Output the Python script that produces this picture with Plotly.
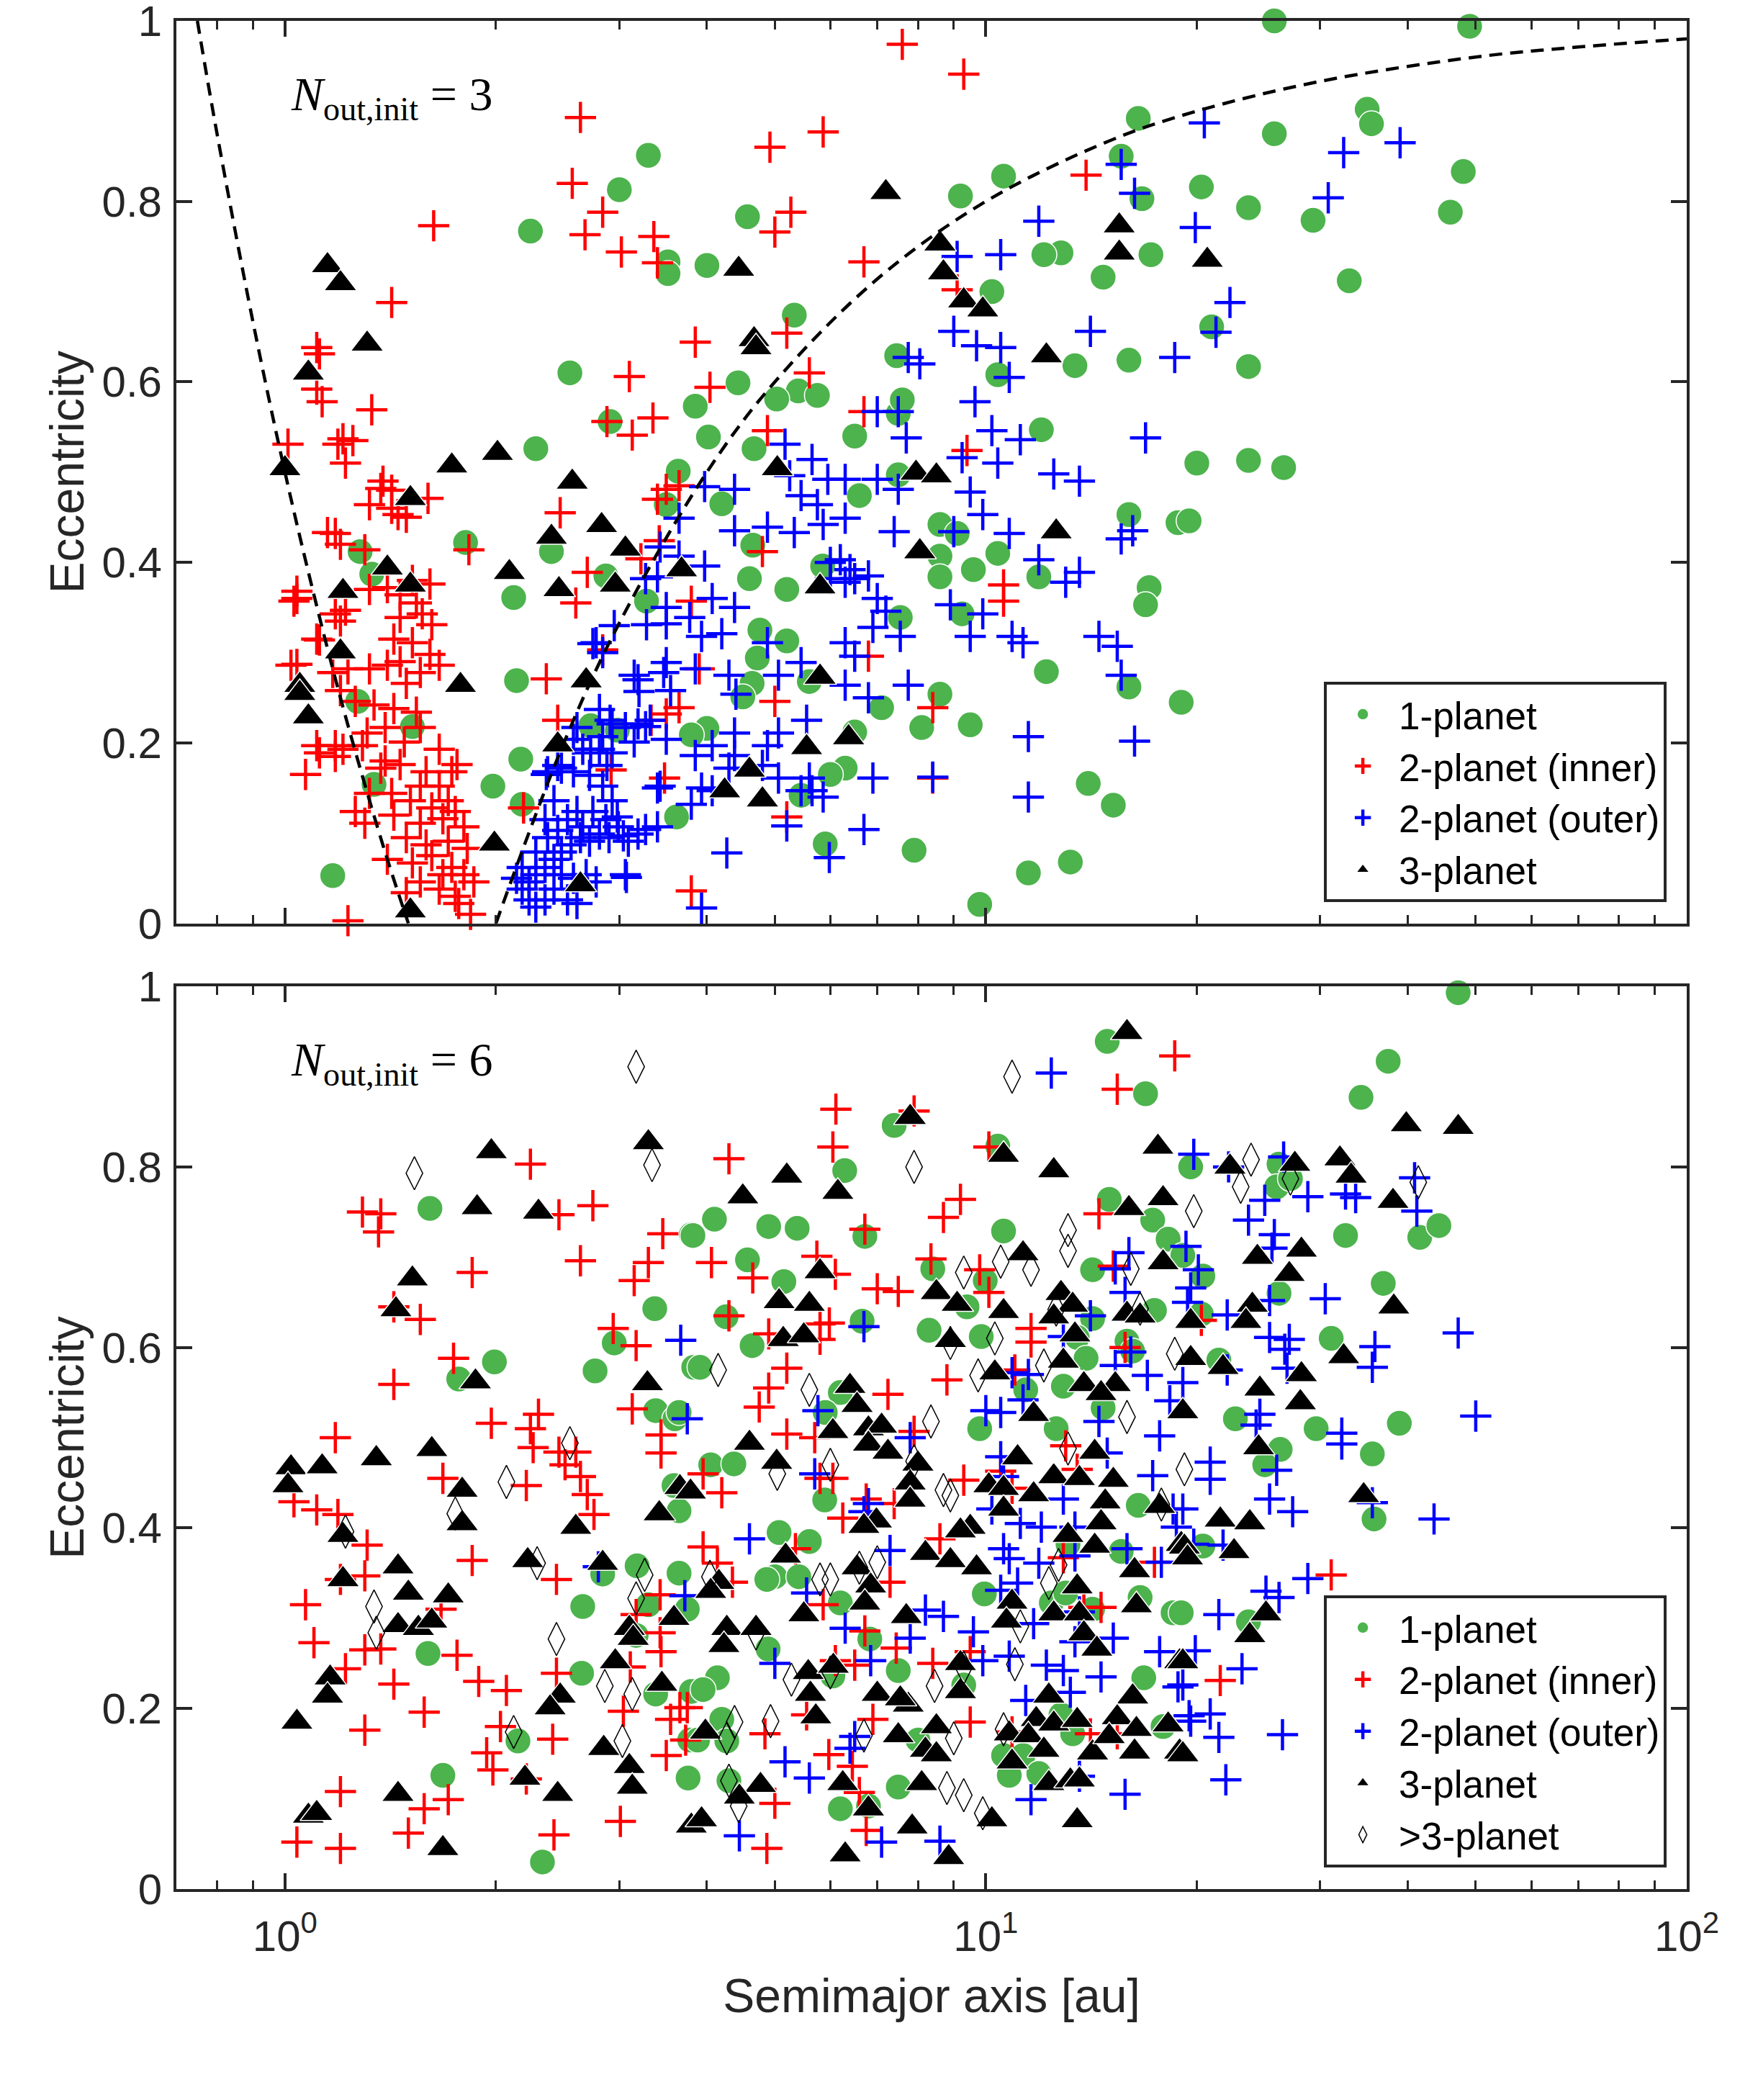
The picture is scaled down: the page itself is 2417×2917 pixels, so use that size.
import math
import plotly.graph_objects as go

# ---- data: (semimajor axis [au], eccentricity) ----

# N_out,init = 3 panel
one_top = [
    (25.8, 1.0), (49, 0.994), (16.5, 0.892), (35, 0.902), (35.5, 0.886), (25.8, 0.875), (48, 0.833),
    (46, 0.788), (29.3, 0.779), (33, 0.712), (20.3, 0.816), (23.7, 0.793), (15.6, 0.85), (16.7, 0.803),
    (17.2, 0.741), (14.7, 0.716), (12.8, 0.743), (12.1, 0.741), (10.6, 0.828), (9.2, 0.806), (10.2, 0.70),
    (5.33, 0.674), (13.4, 0.618), (16, 0.624), (23.7, 0.617), (21, 0.661), (10.4, 0.608), (7.46, 0.629),
    (3.3, 0.851), (3.0, 0.813), (2.24, 0.767), (4.57, 0.783), (3.52, 0.733), (3.52, 0.72), (4.0, 0.729),
    (2.55, 0.61), (4.43, 0.599), (5.4, 0.59), (5.75, 0.585), (5.03, 0.581), (3.85, 0.573), (2.91, 0.556),
    (4.02, 0.539), (2.28, 0.526), (3.64, 0.501), (6.5, 0.54), (7.5, 0.565), (7.6, 0.58), (4.67, 0.526),
    (7.5, 0.497), (6.6, 0.474), (4.2, 0.465), (3.5, 0.464), (12.0, 0.547), (20, 0.51), (23.7, 0.513),
    (26.6, 0.505), (16, 0.453), (18.8, 0.444), (19.5, 0.446), (8.6, 0.442), (9.1, 0.432), (4.65, 0.419),
    (1.81, 0.422), (1.28, 0.412), (2.4, 0.412), (8.6, 0.407), (9.6, 0.392), (10.4, 0.41), (17.1, 0.372),
    (16.9, 0.353), (11.9, 0.384), (8.6, 0.384), (5.85, 0.396), (5.2, 0.37), (4.6, 0.382), (3.28, 0.357),
    (2.12, 0.361), (1.33, 0.387), (2.87, 0.385), (7.55, 0.339), (9.25, 0.343), (4.76, 0.325), (4.72, 0.294),
    (5.2, 0.313), (12.2, 0.279), (16, 0.262), (19, 0.245), (8.6, 0.254), (7.1, 0.239), (5.6, 0.268),
    (4.64, 0.266), (2.14, 0.269), (4.5, 0.251), (9.5, 0.22), (8.1, 0.217), (6.5, 0.212), (6.3, 0.172),
    (6.0, 0.165), (5.45, 0.142), (3.62, 0.118), (2.17, 0.182), (2.18, 0.132), (1.98, 0.152), (2.73, 0.219),
    (2.98, 0.214), (4.0, 0.216), (3.8, 0.209), (14, 0.155), (15.2, 0.131), (5.9, 0.088), (7.9, 0.081),
    (11.5, 0.056), (13.2, 0.068), (9.8, 0.021), (1.17, 0.053), (1.27, 0.246), (1.34, 0.154), (1.52, 0.218),
]

inner_top = [
    (7.6, 0.974), (9.3, 0.941), (5.86, 0.877), (4.92, 0.86), (2.64, 0.893), (2.57, 0.82), (2.84, 0.788),
    (2.68, 0.763), (3.02, 0.744), (3.36, 0.761), (3.4, 0.732), (5.27, 0.788), (5.0, 0.766), (6.7, 0.733),
    (13.9, 0.829), (9.1, 0.702), (5.2, 0.654), (3.85, 0.644), (5.6, 0.61), (4.04, 0.594), (3.1, 0.606),
    (2.88, 0.556), (3.13, 0.541), (3.35, 0.56), (4.88, 0.546), (6.7, 0.567), (9.4, 0.524), (1.63, 0.773),
    (1.42, 0.688), (1.11, 0.638), (1.12, 0.631), (1.11, 0.592), (1.13, 0.578), (1.33, 0.569), (1.01, 0.531),
    (1.19, 0.531), (1.25, 0.535), (1.22, 0.51), (1.38, 0.49), (1.42, 0.48), (1.42, 0.46), (1.6, 0.471),
    (1.32, 0.464), (1.15, 0.433), (1.18, 0.432), (1.3, 0.414), (1.83, 0.414), (1.04, 0.368), (1.03, 0.357),
    (1.18, 0.343), (1.2, 0.335), (1.12, 0.314), (1.04, 0.287), (1.17, 0.278), (1.12, 0.189), (1.07, 0.165),
    (1.18, 0.197), (1.31, 0.211), (1.3, 0.111), (1.23, 0.003), (2.47, 0.455), (2.36, 0.271), (2.6, 0.355),
    (2.7, 0.389), (3.5, 0.481), (3.4, 0.47), (3.65, 0.485), (3.42, 0.424), (3.8, 0.357), (4.8, 0.412),
    (10.6, 0.375), (10.6, 0.357), (6.8, 0.296), (5.0, 0.246), (8.4, 0.239), (8.4, 0.161), (5.2, 0.118),
    (3.8, 0.036), (2.45, 0.225), (2.19, 0.128), (2.92, 0.17), (3.5, 0.232), (3.65, 0.239), (3.9, 0.282),
    (2.84, 0.303), (3.33, 0.225), (3.48, 0.161), (3.22, 0.404), (1.45, 0.453), (1.49, 0.45), (1.2, 0.42),
    (1.37, 0.482), (1.21, 0.537),
    (1.32, 0.37), (1.4, 0.372), (1.46, 0.364), (1.52, 0.38), (1.61, 0.376), (1.54, 0.355), (1.57, 0.343),
    (1.62, 0.331), (1.46, 0.339), (1.43, 0.315), (1.52, 0.311), (1.61, 0.298), (1.66, 0.286), (1.4, 0.286),
    (1.46, 0.29), (1.56, 0.278), (1.49, 0.266), (1.32, 0.282), (1.23, 0.282), (1.2, 0.258), (1.26, 0.246),
    (1.34, 0.242), (1.43, 0.238), (1.54, 0.234), (1.39, 0.217), (1.48, 0.201), (1.56, 0.217), (1.66, 0.193),
    (1.37, 0.172), (1.46, 0.176), (1.59, 0.168), (1.73, 0.168), (1.32, 0.144), (1.42, 0.144), (1.51, 0.136),
    (1.62, 0.128), (1.75, 0.124), (1.43, 0.12), (1.56, 0.111), (1.68, 0.116), (1.8, 0.107), (1.49, 0.095),
    (1.59, 0.087), (1.71, 0.091), (1.82, 0.083), (1.4, 0.071), (1.52, 0.067), (1.62, 0.075), (1.73, 0.062),
    (1.8, 0.054), (1.86, 0.046), (1.56, 0.046), (1.66, 0.038), (1.75, 0.03), (1.68, 0.054), (1.49, 0.034),
    (1.84, 0.01), (1.77, 0.022), (1.26, 0.124), (1.29, 0.197), (1.21, 0.193), (1.11, 0.197), (1.18, 0.185),
    (1.02, 0.286), (1.11, 0.315), (1.22, 0.347), (1.04, 0.36), (1.66, 0.152), (1.71, 0.136), (1.76, 0.176),
    (1.39, 0.18), (1.56, 0.152),
]

outer_top = [
    (20.5, 0.887), (32.4, 0.854), (39, 0.865), (15.6, 0.841), (16.3, 0.809), (30.8, 0.804), (19.9, 0.771),
    (11.9, 0.778), (10.5, 0.741), (9.1, 0.739), (22.3, 0.688), (14.1, 0.656), (21.3, 0.655), (18.6, 0.627),
    (9.0, 0.656), (9.7, 0.64), (10.5, 0.638), (7.75, 0.627), (8.05, 0.62), (10.8, 0.605), (9.65, 0.578),
    (16.9, 0.538), (10.2, 0.546), (11.2, 0.536), (7.0, 0.567), (7.5, 0.567), (7.7, 0.538), (5.17, 0.531),
    (5.65, 0.514), (7.0, 0.492), (7.5, 0.481), (9.25, 0.516), (10.4, 0.51), (12.5, 0.498), (13.6, 0.49),
    (9.5, 0.478), (9.9, 0.453), (5.95, 0.492), (6.3, 0.492), (5.25, 0.496), (5.45, 0.474), (5.75, 0.464),
    (3.97, 0.484), (4.38, 0.481), (3.65, 0.449), (4.38, 0.435), (4.88, 0.439), (5.33, 0.433), (5.86, 0.442),
    (6.3, 0.449), (7.4, 0.434), (9.0, 0.434), (10.8, 0.432), (15.6, 0.426), (16.2, 0.435), (11.9, 0.403),
    (13.6, 0.389), (13.0, 0.378), (6.0, 0.4), (6.2, 0.403), (6.4, 0.392), (6.5, 0.382), (6.0, 0.382),
    (6.3, 0.378), (6.8, 0.385), (7.0, 0.36), (7.2, 0.346), (6.9, 0.328), (8.9, 0.353), (9.9, 0.343),
    (9.5, 0.318), (10.9, 0.318), (11.3, 0.311), (14.5, 0.318), (15.4, 0.307), (15.6, 0.275), (7.55, 0.318),
    (6.3, 0.311), (6.5, 0.296), (6.3, 0.264), (7.75, 0.264), (6.8, 0.25), (5.45, 0.289), (4.88, 0.311),
    (4.07, 0.36), (4.38, 0.35), (3.93, 0.318), (4.2, 0.321), (3.78, 0.339), (3.5, 0.332), (3.27, 0.382),
    (3.65, 0.407), (3.97, 0.396), (3.5, 0.35), (2.78, 0.311), (2.84, 0.3), (3.15, 0.275), (3.2, 0.257),
    (3.5, 0.289), (3.85, 0.282), (4.3, 0.275), (4.4, 0.254), (5.06, 0.275), (5.55, 0.225), (5.06, 0.211),
    (4.88, 0.197), (4.38, 0.211), (4.07, 0.197), (3.85, 0.186), (3.5, 0.204), (3.27, 0.218), (2.91, 0.225),
    (2.84, 0.207), (2.73, 0.189), (2.88, 0.175), (2.58, 0.204), (2.45, 0.175), (2.36, 0.165), (3.4, 0.15),
    (3.93, 0.15), (3.8, 0.132), (4.07, 0.147), (4.3, 0.172), (4.38, 0.186), (4.8, 0.175), (5.06, 0.161),
    (5.45, 0.147), (5.65, 0.147), (5.86, 0.14), (5.6, 0.161), (6.9, 0.161), (8.4, 0.162), (5.2, 0.108),
    (6.7, 0.104), (11.5, 0.207), (16.3, 0.202), (11.5, 0.14), (4.27, 0.078), (5.98, 0.073), (3.93, 0.017),
    (3.07, 0.051), (3.27, 0.104), (3.04, 0.097), (2.98, 0.118), (2.75, 0.31), (2.95, 0.33), (3.19, 0.27),
    (3.47, 0.278), (3.55, 0.258), (3.28, 0.331), (3.43, 0.417), (3.4, 0.384),
    (2.23, 0.046), (2.18, 0.038), (2.14, 0.05), (2.28, 0.054), (2.35, 0.062), (2.42, 0.071), (2.48, 0.079),
    (2.56, 0.087), (2.64, 0.095), (2.72, 0.091), (2.81, 0.099), (2.9, 0.095), (2.99, 0.107), (3.09, 0.091),
    (3.19, 0.099), (3.4, 0.107), (2.37, 0.095), (2.45, 0.103), (2.53, 0.115), (2.61, 0.124), (2.66, 0.107),
    (2.75, 0.124), (2.87, 0.115), (2.93, 0.136), (2.84, 0.152), (2.72, 0.164), (2.58, 0.168), (2.48, 0.172),
    (2.37, 0.168), (2.42, 0.136), (2.35, 0.115), (2.28, 0.079), (2.18, 0.062), (2.23, 0.026), (2.28, 0.018),
    (2.35, 0.026), (2.42, 0.038), (2.53, 0.026), (2.61, 0.022), (2.48, 0.054), (2.58, 0.05), (2.69, 0.054),
    (2.78, 0.046), (3.06, 0.054), (3.43, 0.152), (3.15, 0.201), (3.06, 0.217), (3.19, 0.221), (3.32, 0.225),
    (2.81, 0.193), (2.93, 0.189), (2.66, 0.193), (2.61, 0.217), (2.81, 0.237), (2.93, 0.221),
]

three_top = [
    (7.2, 0.81), (4.44, 0.725), (4.67, 0.647), (4.7, 0.638), (8.6, 0.753), (8.7, 0.721), (9.3, 0.69),
    (9.9, 0.68), (15.5, 0.773), (15.5, 0.743), (20.7, 0.735), (12.2, 0.629), (1.15, 0.729), (1.2, 0.709),
    (1.31, 0.642), (1.08, 0.61), (1.0, 0.504), (2.01, 0.521), (1.73, 0.507), (2.57, 0.489), (1.51, 0.471),
    (5.04, 0.504), (7.95, 0.499), (8.5, 0.496), (2.83, 0.441), (2.4, 0.428), (3.06, 0.415), (3.68, 0.392),
    (2.09, 0.389), (1.4, 0.394), (1.51, 0.375), (1.21, 0.368), (2.46, 0.37), (2.96, 0.375), (8.05, 0.412),
    (12.6, 0.434), (5.8, 0.373), (1.2, 0.301), (1.05, 0.264), (1.05, 0.255), (1.08, 0.229), (1.78, 0.264),
    (2.69, 0.269), (5.8, 0.273), (2.45, 0.198), (5.55, 0.195), (6.37, 0.206), (4.6, 0.17), (4.24, 0.147),
    (4.8, 0.137), (1.99, 0.088), (2.64, 0.043), (1.51, 0.014),
]

# dashed limits (apocentre / pericentre boundaries)
apo_a = [0.75, 0.8, 0.9, 1.0, 1.1, 1.2, 1.3, 1.4, 1.5]
apo_e = [1.0, 0.875, 0.667, 0.5, 0.364, 0.25, 0.154, 0.071, 0.0]
peri_a = [2.0, 2.5, 3.0, 4.0, 5.0, 7.0, 10, 15, 20, 30, 50, 70, 100]
peri_e = [0.0, 0.2, 0.333, 0.5, 0.6, 0.714, 0.8, 0.867, 0.9, 0.933, 0.96, 0.971, 0.98]

# N_out,init = 6 panel
one_bot = [
    (1.61, 0.754), (3.8, 0.725), (3.37, 0.643), (2.95, 0.605), (1.99, 0.584), (1.77, 0.565), (2.77, 0.574),
    (3.38, 0.53), (3.6, 0.521), (3.83, 0.578),
    (14.9, 0.939), (16.9, 0.881), (7.4, 0.846), (10.4, 0.823), (6.29, 0.796), (15.0, 0.764), (17.3, 0.741),
    (18.2, 0.72), (19.1, 0.702), (19.6, 0.8), (4.1, 0.742), (3.82, 0.724), (4.9, 0.734), (5.38, 0.732),
    (6.72, 0.723), (10.6, 0.729), (4.57, 0.697), (5.15, 0.673), (8.4, 0.687), (9.98, 0.674), (14.2, 0.686),
    (4.26, 0.634), (6.66, 0.629), (9.4, 0.645), (17.4, 0.641), (8.3, 0.619), (9.85, 0.612), (4.64, 0.602),
    (14.2, 0.632), (13.5, 0.611), (3.91, 0.578), (6.2, 0.55), (5.9, 0.528), (13.9, 0.588), (12.9, 0.557),
    (11.4, 0.553), (14.7, 0.533), (15.9, 0.607), (16.2, 0.596), (3.65, 0.528), (9.8, 0.51), (12.6, 0.51),
    (47.2, 0.993), (37.5, 0.917), (34.3, 0.877), (32.6, 0.724), (41.6, 0.722), (44.3, 0.735), (36.9, 0.671),
    (31.1, 0.61), (22.7, 0.521), (38.9, 0.516), (29.6, 0.51), (26.2, 0.803), (26.0, 0.778), (27.2, 0.787),
    (20.4, 0.679), (26.2, 0.66), (20.3, 0.637), (21.5, 0.586),
    (3.59, 0.447), (3.65, 0.419), (3.18, 0.358), (3.65, 0.35), (2.84, 0.349), (2.66, 0.313), (3.17, 0.281),
    (3.3, 0.315), (3.75, 0.31), (1.6, 0.261), (2.65, 0.239), (3.38, 0.216), (3.8, 0.219), (2.15, 0.164),
    (3.78, 0.165), (1.68, 0.126), (3.76, 0.123), (2.33, 0.03),
    (4.05, 0.47), (4.37, 0.471), (5.89, 0.431), (5.07, 0.395), (5.6, 0.385), (5.0, 0.346), (4.87, 0.343),
    (5.41, 0.346), (6.2, 0.317), (4.89, 0.266), (6.05, 0.236), (4.14, 0.234), (3.95, 0.221), (6.83, 0.277),
    (7.5, 0.242), (4.2, 0.188), (3.88, 0.165), (4.27, 0.164), (4.3, 0.12), (7.5, 0.113), (6.2, 0.089),
    (6.8, 0.092), (8.0, 0.165), (9.3, 0.226), (9.95, 0.327), (16.5, 0.425), (13.1, 0.382), (15.6, 0.374),
    (12.4, 0.317), (13.0, 0.328), (14.2, 0.31), (16.6, 0.323), (18.5, 0.306), (16.8, 0.234), (17.9, 0.18),
    (10.6, 0.148), (11.3, 0.148), (11.9, 0.128), (10.8, 0.126), (12.8, 0.193), (13.3, 0.172),
    (26.3, 0.487), (25, 0.47), (35.6, 0.482), (35.8, 0.41), (20.4, 0.38), (19, 0.306), (23.7, 0.296),
]

inner_bot = [
    (1.29, 0.75), (1.37, 0.748), (1.36, 0.728), (2.24, 0.803), (2.46, 0.747), (2.75, 0.757), (3.46, 0.726),
    (1.85, 0.683), (2.64, 0.696), (3.3, 0.694), (3.15, 0.674), (1.43, 0.645), (1.56, 0.631), (2.94, 0.621),
    (3.17, 0.602), (1.74, 0.588), (1.43, 0.559), (3.13, 0.532), (1.97, 0.516), (2.3, 0.526), (2.24, 0.51),
    (1.18, 0.5), (3.44, 0.503),
    (18.6, 0.923), (15.4, 0.886), (6.11, 0.864), (7.9, 0.862), (6.05, 0.822), (4.3, 0.809), (10.1, 0.822),
    (9.2, 0.764), (8.7, 0.744), (6.72, 0.731), (14.5, 0.748), (4.06, 0.694), (5.74, 0.701), (4.65, 0.677),
    (6.1, 0.681), (8.35, 0.698), (9.8, 0.686), (10.1, 0.661), (7.0, 0.665), (7.5, 0.662), (15.2, 0.69),
    (4.3, 0.635), (5.98, 0.627), (5.8, 0.626), (4.9, 0.615), (5.8, 0.609), (11.6, 0.621), (11.6, 0.606),
    (15.8, 0.6), (5.2, 0.577), (4.9, 0.555), (4.75, 0.534), (11.0, 0.575), (7.25, 0.548), (8.8, 0.564),
    (5.2, 0.504), (5.7, 0.5), (7.9, 0.507), (20.3, 0.63),
    (2.26, 0.489), (2.46, 0.484), (2.6, 0.484), (2.51, 0.47), (2.64, 0.457), (3.44, 0.483), (1.68, 0.455),
    (2.21, 0.447), (2.7, 0.437), (2.76, 0.415), (1.03, 0.429), (1.11, 0.42), (1.19, 0.415), (1.31, 0.381),
    (1.85, 0.364), (1.3, 0.347), (1.2, 0.343), (2.44, 0.343), (3.43, 0.326), (1.07, 0.315), (3.17, 0.304),
    (1.67, 0.31), (3.43, 0.284), (1.1, 0.273), (1.3, 0.265), (1.37, 0.266), (1.76, 0.259), (3.44, 0.263),
    (1.22, 0.244), (2.44, 0.239), (3.11, 0.246), (1.43, 0.227), (1.89, 0.23), (2.07, 0.22), (3.04, 0.197),
    (3.55, 0.188), (3.66, 0.201), (1.58, 0.196), (1.3, 0.176), (2.03, 0.18), (2.41, 0.166), (1.94, 0.151),
    (3.73, 0.165), (1.98, 0.132), (3.5, 0.148), (2.21, 0.122), (1.2, 0.108), (1.58, 0.089), (1.71, 0.099),
    (1.5, 0.062), (3.01, 0.075), (2.42, 0.06), (1.04, 0.052), (1.2, 0.045),
    (3.95, 0.46), (4.2, 0.439), (5.8, 0.455), (6.05, 0.455), (6.25, 0.411), (3.95, 0.379), (4.14, 0.361),
    (4.35, 0.34), (5.35, 0.377), (5.86, 0.315), (6.72, 0.286), (7.3, 0.34), (7.4, 0.427), (6.75, 0.432),
    (9.3, 0.453), (6.1, 0.253), (6.5, 0.248), (7.45, 0.267), (8.4, 0.25), (9.5, 0.263), (3.75, 0.201),
    (5.55, 0.193), (4.84, 0.172), (6.9, 0.188), (5.97, 0.149), (6.45, 0.136), (6.6, 0.107), (5.0, 0.095),
    (6.75, 0.065), (4.87, 0.045), (9.5, 0.185), (10.9, 0.174), (10.9, 0.444), (10.5, 0.463), (13, 0.491),
    (13.5, 0.465), (12.9, 0.367), (17.4, 0.362), (13.8, 0.312), (14.6, 0.312), (15.4, 0.172), (14.1, 0.172),
    (8.6, 0.388), (31.1, 0.348), (21.6, 0.231),
]

outer_bot = [
    (3.67, 0.608), (3.75, 0.521),
    (12.4, 0.904), (19.8, 0.814), (16.0, 0.705), (15.3, 0.687), (15.8, 0.661), (19.3, 0.712), (19.6, 0.666),
    (19.4, 0.65), (14.1, 0.635), (12.9, 0.612), (6.7, 0.623), (16.1, 0.595), (15.3, 0.58), (17.0, 0.569),
    (19.1, 0.561), (10.9, 0.572), (11.5, 0.57), (11.3, 0.542), (10.0, 0.53), (10.5, 0.528), (18.3, 0.541),
    (14.5, 0.518), (5.76, 0.53), (17.7, 0.502), (7.8, 0.5),
    (22.2, 0.8), (26.6, 0.811), (25, 0.763), (28.8, 0.767), (32.6, 0.77), (33.7, 0.766), (40.9, 0.788),
    (41.2, 0.751), (23.7, 0.741), (25.8, 0.725), (25.6, 0.71), (20.1, 0.686), (25.4, 0.652), (30.5, 0.654),
    (22.1, 0.636), (47.2, 0.616), (25.4, 0.611), (27.1, 0.609), (26.7, 0.598), (35.9, 0.601), (35.6, 0.578),
    (26.9, 0.577), (22.1, 0.575), (24.6, 0.526), (50.0, 0.524), (24.3, 0.514), (32.2, 0.505),
    (17.3, 0.458), (14.9, 0.483), (10.5, 0.479), (10.6, 0.457), (12.9, 0.432), (18.5, 0.421), (18.7, 0.401),
    (12.0, 0.401), (11.2, 0.405), (13.4, 0.401), (10.2, 0.421), (5.7, 0.46), (6.8, 0.427), (6.7, 0.418),
    (4.6, 0.388), (7.3, 0.375), (5.55, 0.328), (3.72, 0.325), (10.6, 0.377), (10.8, 0.366), (11.9, 0.361),
    (13.4, 0.369), (15.9, 0.377), (17.8, 0.362), (11.1, 0.339), (10.5, 0.331), (8.2, 0.309), (8.7, 0.302),
    (6.3, 0.289), (7.8, 0.278), (9.6, 0.285), (11.7, 0.294), (13.6, 0.307), (15.2, 0.278), (13.4, 0.274),
    (5.0, 0.25), (6.85, 0.253), (9.9, 0.253), (10.8, 0.258), (12.2, 0.248), (12.9, 0.242), (14.6, 0.235),
    (13.2, 0.218), (11.4, 0.209), (17.7, 0.263), (18.8, 0.224), (19.5, 0.192), (5.17, 0.141), (5.6, 0.123),
    (6.5, 0.169), (6.4, 0.156), (4.45, 0.059), (7.1, 0.052), (8.6, 0.053), (11.6, 0.099), (15.8, 0.105),
    (13.6, 0.125), (2.8, 0.357),
    (20.9, 0.473), (20.9, 0.454), (26, 0.464), (32.2, 0.493), (25.4, 0.432), (27.4, 0.418), (19.1, 0.421),
    (35.6, 0.428), (43.6, 0.41), (21.8, 0.381), (19.8, 0.382), (28.8, 0.344), (25.1, 0.33), (26.2, 0.323),
    (21.5, 0.304), (19.9, 0.264), (23.2, 0.244), (19.1, 0.226), (20.9, 0.194), (19.6, 0.186), (21.5, 0.168),
    (26.5, 0.171), (22.0, 0.121),
]

three_bot = [
    (1.97, 0.817), (1.88, 0.755), (2.3, 0.75), (3.3, 0.827), (1.52, 0.676), (1.44, 0.642), (1.87, 0.562),
    (3.29, 0.56),
    (15.9, 0.949), (7.8, 0.855), (10.6, 0.813), (12.5, 0.796), (17.6, 0.822), (5.2, 0.79), (4.5, 0.767),
    (6.15, 0.772), (16.0, 0.754), (17.9, 0.765), (17.9, 0.694), (11.3, 0.704), (5.8, 0.684), (5.07, 0.651),
    (5.6, 0.648), (5.14, 0.609), (5.5, 0.613), (8.5, 0.661), (9.1, 0.648), (10.6, 0.64), (12.8, 0.66),
    (13.3, 0.647), (12.5, 0.634), (13.4, 0.614), (8.9, 0.608), (15.9, 0.637), (16.6, 0.635), (19.6, 0.629),
    (19.6, 0.588), (10.3, 0.572), (12.9, 0.585), (13.8, 0.559), (15.3, 0.559), (14.6, 0.549), (6.4, 0.557),
    (6.55, 0.536), (11.7, 0.526), (19.1, 0.529), (6.05, 0.507), (6.8, 0.51), (7.1, 0.513),
    (39.8, 0.847), (47.2, 0.844), (22.3, 0.8), (27.6, 0.803), (32, 0.809), (33.2, 0.79), (38.1, 0.762),
    (24.4, 0.7), (28.2, 0.708), (27.1, 0.681), (38.2, 0.645), (24, 0.647), (23.5, 0.629), (21.8, 0.578),
    (28.2, 0.57), (32.4, 0.59), (24.6, 0.554), (28.1, 0.539),
    (1.02, 0.467), (1.13, 0.468), (1.01, 0.447), (1.35, 0.477), (1.62, 0.487), (1.79, 0.442), (1.21, 0.392),
    (1.79, 0.405), (2.6, 0.401), (1.21, 0.343), (1.45, 0.357), (1.5, 0.328), (1.71, 0.325), (1.45, 0.292),
    (1.55, 0.289), (1.62, 0.297), (2.22, 0.364), (2.84, 0.361), (1.16, 0.234), (1.15, 0.214), (1.04, 0.185),
    (2.96, 0.252), (2.47, 0.214), (2.39, 0.201), (3.1, 0.289), (3.14, 0.278), (3.45, 0.227), (3.59, 0.3),
    (3.42, 0.416), (3.66, 0.445), (3.79, 0.44), (2.85, 0.156), (3.1, 0.136), (3.13, 0.113), (2.2, 0.123),
    (2.45, 0.105), (1.45, 0.105), (1.08, 0.081), (1.11, 0.084), (1.68, 0.045), (3.8, 0.07),
    (4.6, 0.494), (5.03, 0.473), (4.16, 0.34), (4.05, 0.33), (5.18, 0.369), (6.8, 0.493), (7.25, 0.484),
    (8.0, 0.471), (7.8, 0.45), (7.8, 0.431), (6.98, 0.408), (6.7, 0.402), (6.55, 0.356), (6.85, 0.336),
    (6.72, 0.317), (8.2, 0.372), (8.9, 0.364), (5.5, 0.304), (4.27, 0.289), (4.7, 0.289), (4.23, 0.27),
    (7.7, 0.302), (5.58, 0.24), (5.62, 0.216), (5.72, 0.191), (6.06, 0.247), (7.0, 0.216), (7.75, 0.204),
    (7.55, 0.211), (9.2, 0.25), (9.2, 0.219), (3.98, 0.174), (7.5, 0.17), (8.5, 0.18), (8.2, 0.154),
    (8.5, 0.149), (6.25, 0.117), (6.8, 0.089), (4.77, 0.115), (4.45, 0.102), (3.93, 0.077), (7.85, 0.069),
    (8.1, 0.117), (10.2, 0.077), (6.3, 0.038), (8.85, 0.035), (9.5, 0.401), (9.2, 0.397), (9.7, 0.356),
    (10.1, 0.447), (10.6, 0.444), (10.6, 0.421), (11.1, 0.478), (11.7, 0.437), (12.5, 0.457), (13.6, 0.455),
    (14.3, 0.484), (15.2, 0.453), (14.8, 0.429), (14.6, 0.406), (13.1, 0.392), (14.3, 0.38), (16.3, 0.353),
    (17.7, 0.424), (19, 0.382), (10.9, 0.318), (10.7, 0.297), (13.5, 0.335), (12.5, 0.305), (13.6, 0.305),
    (13.8, 0.283), (14.4, 0.266), (16.4, 0.314), (18.9, 0.252), (12.3, 0.214), (16.2, 0.213), (11.8, 0.188),
    (12.5, 0.183), (13.5, 0.187), (15.4, 0.19), (16.4, 0.177), (10.8, 0.172), (11.5, 0.17), (12.1, 0.154),
    (10.9, 0.141), (14.2, 0.151), (16.3, 0.152), (15, 0.169), (18.9, 0.152), (18.2, 0.182), (12.3, 0.117),
    (13.2, 0.12), (13.6, 0.121), (13.5, 0.076),
    (24.5, 0.489), (21.6, 0.409), (23.8, 0.406), (19.2, 0.379), (22.6, 0.374), (19.4, 0.367), (34.6, 0.436),
    (25.1, 0.305), (23.8, 0.281), (19.1, 0.252), (19.1, 0.149),
]

more_bot = [
    (3.17, 0.911), (1.53, 0.793), (3.34, 0.802),
    (10.9, 0.9), (7.9, 0.8), (13.1, 0.73), (13.1, 0.707), (10.5, 0.695), (9.3, 0.683), (11.6, 0.686),
    (16.1, 0.687), (12.6, 0.642), (16.6, 0.643), (8.9, 0.605), (10.3, 0.61), (18.6, 0.593), (12.1, 0.58),
    (9.75, 0.569), (4.15, 0.575), (5.6, 0.553), (15.9, 0.523), (8.35, 0.518), (19.8, 0.751),
    (23.9, 0.808), (23.1, 0.778), (27.2, 0.787), (41.4, 0.783),
    (2.55, 0.494), (2.07, 0.451), (1.75, 0.416), (1.22, 0.396), (1.34, 0.313), (1.35, 0.284), (2.29, 0.361),
    (2.44, 0.277), (2.86, 0.225), (3.13, 0.216), (3.26, 0.348), (3.17, 0.322), (2.12, 0.174), (3.03, 0.164),
    (6.0, 0.47), (5.04, 0.46), (4.04, 0.346), (5.8, 0.343), (6.0, 0.343), (6.6, 0.356), (7.0, 0.362),
    (4.7, 0.283), (5.28, 0.232), (6.0, 0.24), (8.45, 0.225), (9.3, 0.245), (4.38, 0.185), (4.27, 0.167),
    (4.93, 0.186), (6.7, 0.17), (4.3, 0.12), (4.44, 0.092), (8.8, 0.112), (9.3, 0.104), (9.9, 0.084),
    (9.0, 0.167), (10.6, 0.177), (11.2, 0.291), (11.0, 0.249), (12.3, 0.339), (12.7, 0.359), (13.1, 0.488),
    (19.2, 0.465), (17.8, 0.426), (8.7, 0.442), (8.9, 0.436), (7.9, 0.474),
]

GREEN = 'rgb(77,179,77)'
AXIS = '#262626'
SANS = 'Liberation Sans, Arial, sans-serif'
SERIF = 'Liberation Serif, Times New Roman, serif'


def cols(pairs):
    return [p[0] for p in pairs], [p[1] for p in pairs]


styles = {
    '1-planet': dict(symbol='circle', size=36, color=GREEN, line=dict(color='white', width=1.5)),
    '2-planet (inner)': dict(symbol='cross-thin-open', size=31, color='red', line=dict(color='red', width=4.5)),
    '2-planet (outer)': dict(symbol='cross-thin-open', size=31, color='blue', line=dict(color='blue', width=4.5)),
    '3-planet': dict(symbol='triangle-up', size=40, color='black', line=dict(color='white', width=1.5)),
    '>3-planet': dict(symbol='diamond-tall-open', size=33, color='black', line=dict(color='black', width=1.5)),
}

fig = go.Figure()

panels = [
    ('x', 'y', 'legend', [('1-planet', one_top), ('2-planet (inner)', inner_top),
                          ('2-planet (outer)', outer_top), ('3-planet', three_top)]),
    ('x2', 'y2', 'legend2', [('1-planet', one_bot), ('2-planet (inner)', inner_bot),
                             ('2-planet (outer)', outer_bot), ('3-planet', three_bot),
                             ('>3-planet', more_bot)]),
]
for xa, ya, leg, series in panels:
    for name, pts in series:
        a, e = cols(pts)
        fig.add_trace(go.Scatter(x=a, y=e, mode='markers', name=name, marker=styles[name],
                                 xaxis=xa, yaxis=ya, legend=leg, cliponaxis=False))

for ca, ce in [(apo_a, apo_e), (peri_a, peri_e)]:
    fig.add_trace(go.Scatter(x=ca, y=ce, mode='lines', line=dict(color='black', width=4.5, dash='18px,11px',
                                                                  shape='spline'),
                             showlegend=False, hoverinfo='skip', xaxis='x', yaxis='y'))

minor_vals = [0.7, 0.8, 0.9] + [k for k in range(2, 10)] + [10 * k for k in range(2, 10)]
xcommon = dict(type='log', range=[math.log10(0.7), 2], showline=True, linewidth=4, linecolor=AXIS,
               mirror='ticks', ticks='inside', ticklen=22, tickwidth=4, tickcolor=AXIS,
               tickvals=[1, 10, 100], showgrid=False, zeroline=False, automargin=False,
               ticklabeloverflow='allow',
               minor=dict(ticks='inside', ticklen=12, tickwidth=3, tickcolor=AXIS, tickvals=minor_vals,
                          showgrid=False))
ycommon = dict(range=[0, 1], showline=True, linewidth=4, linecolor=AXIS, mirror='ticks', ticks='inside',
               ticklen=22, tickwidth=4, tickcolor=AXIS, tickvals=[0, 0.2, 0.4, 0.6, 0.8, 1],
               ticktext=['0', '0.2', '0.4', '0.6', '0.8', '1'], showgrid=False, zeroline=False,
               automargin=False, ticklabeloverflow='allow',
               tickfont=dict(family=SANS, size=60, color=AXIS), ticklabelstandoff=4,
               title=dict(text='Eccentricity', font=dict(family=SANS, size=66, color=AXIS), standoff=4))

legend_common = dict(x=0.9867, xanchor='right', yanchor='bottom', bgcolor='white', bordercolor=AXIS,
                     borderwidth=4, itemwidth=90, font=dict(family=SANS, size=53, color='black'))

fig.update_layout(
    width=2417, height=2917,
    margin=dict(l=237, r=82, t=21, b=301, autoexpand=False),
    paper_bgcolor='white', plot_bgcolor='white',
    xaxis=dict(xcommon, anchor='y', showticklabels=False),
    yaxis=dict(ycommon, domain=[0.5169, 1], anchor='x'),
    xaxis2=dict(xcommon, anchor='y2', ticktext=['10<sup>0</sup>', '10<sup>1</sup>', '10<sup>2</sup>'],
                tickfont=dict(family=SANS, size=60, color=AXIS), ticklabelstandoff=10,
                title=dict(text='Semimajor axis [au]', font=dict(family=SANS, size=66, color=AXIS),
                           standoff=28)),
    yaxis2=dict(ycommon, domain=[0, 0.4832], anchor='x2'),
    legend=dict(legend_common, y=0.5283),
    legend2=dict(legend_common, y=0.0116),
    showlegend=True,
)

for xd, yd, n in [('x domain', 'y domain', 3), ('x2 domain', 'y2 domain', 6)]:
    fig.add_annotation(text=f'<i>N</i><sub>out,init</sub> = {n}', xref=xd, yref=yd, x=0.075, y=0.95,
                       xanchor='left', yanchor='top', showarrow=False,
                       font=dict(family=SERIF, size=66, color='black'))

fig.write_html('out.html')
